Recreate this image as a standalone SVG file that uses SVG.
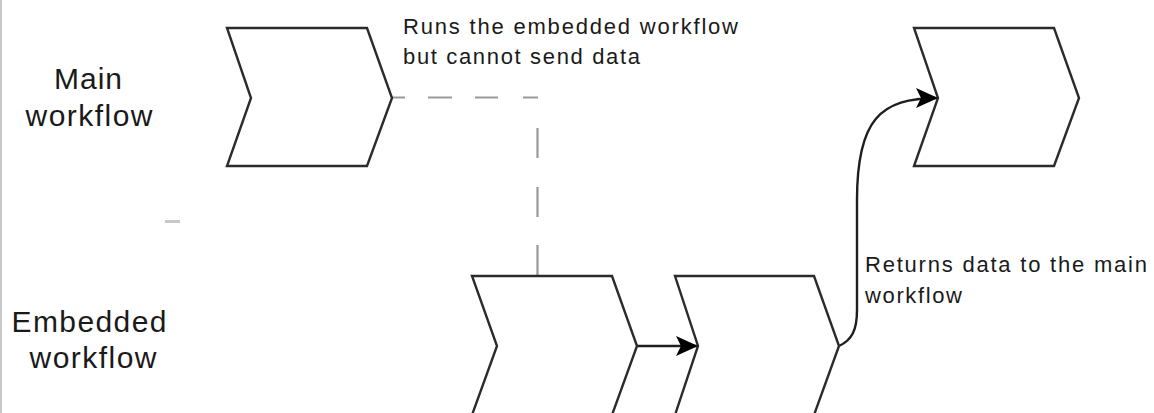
<svg xmlns="http://www.w3.org/2000/svg" width="1154" height="413" viewBox="0 0 1154 413">
<style>
.shape{fill:#fff;stroke:#2b2b2b;stroke-width:2.4;stroke-linejoin:miter}
.lbl{font-family:"Liberation Sans",Arial,sans-serif;font-size:30px;fill:#1a1a1a;text-anchor:middle}
.note{font-family:"Liberation Sans",Arial,sans-serif;font-size:22px;fill:#1a1a1a}
.dash{fill:none;stroke:#999;stroke-width:2.2}
.conn{fill:none;stroke:#1e1e1e;stroke-width:2.4}
</style>
<defs>
<marker id="arr" markerUnits="userSpaceOnUse" markerWidth="24" markerHeight="22" refX="22" refY="10" orient="auto">
<path d="M0,0 L22,10 L0,20 L5,10 z" fill="#000"/>
</marker>
</defs>
<rect x="0" y="0" width="1154" height="413" fill="#fff"/>
<line x1="1" y1="0" x2="1" y2="413" stroke="#c8c8c8" stroke-width="2"/>
<line x1="165" y1="221.5" x2="180" y2="221.5" stroke="#c8c8c8" stroke-width="3"/>
<g id="lane-main-label">
<text class="lbl" x="88" y="89" textLength="68" lengthAdjust="spacing">Main</text>
<text class="lbl" x="89" y="126" textLength="127" lengthAdjust="spacing">workflow</text>
</g>
<g id="lane-embedded-label">
<text class="lbl" x="89" y="332" textLength="155" lengthAdjust="spacing">Embedded</text>
<text class="lbl" x="93" y="368" textLength="127" lengthAdjust="spacing">workflow</text>
</g>
<g id="connectors">
<line class="dash" x1="538" y1="97.5" x2="392" y2="97.5" stroke-dasharray="15 25 23 23 24 23 13 100"/>
<line class="dash" x1="537.5" y1="276" x2="537.5" y2="97" stroke-dasharray="31 28 30 29 30 60"/>
<line class="conn" x1="637" y1="346" x2="698" y2="346" marker-end="url(#arr)"/>
<path class="conn" d="M839,346 C852,340 857,330 857,310 L857,200 C857,120 880,98 938,98" marker-end="url(#arr)"/>
</g>
<g id="main-step">
<polygon class="shape" points="227,28 367,28 392,98 367,166 227,166 251,98"/>
</g>
<g id="main-next">
<polygon class="shape" points="914,28 1054,28 1079,98 1054,166 914,166 938,98"/>
</g>
<g id="embedded-step1">
<polygon class="shape" points="472,276 612,276 637,346 612,415 472,415 497,346"/>
</g>
<g id="embedded-step2">
<polygon class="shape" points="675,276 814,276 839,346 814,415 675,415 698,346"/>
</g>
<g id="note-runs">
<text class="note" x="403" y="34" textLength="335" lengthAdjust="spacing">Runs the embedded workflow</text>
<text class="note" x="403" y="64" textLength="237" lengthAdjust="spacing">but cannot send data</text>
</g>
<g id="note-returns">
<text class="note" x="865" y="272" textLength="282" lengthAdjust="spacing">Returns data to the main</text>
<text class="note" x="865" y="303" textLength="97" lengthAdjust="spacing">workflow</text>
</g>
</svg>
